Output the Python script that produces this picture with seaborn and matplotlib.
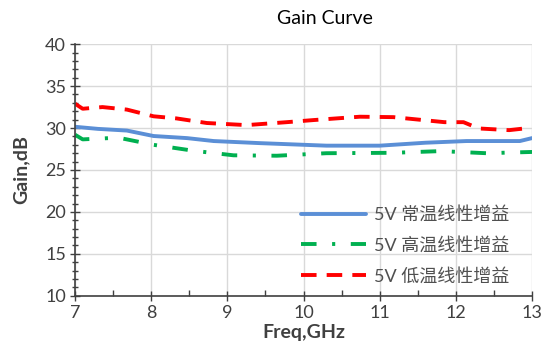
import numpy as np
import pandas as pd
import matplotlib
matplotlib.use("Agg")
import matplotlib.pyplot as plt
from matplotlib.ticker import MultipleLocator
import seaborn as sns

# values
freq_normal = [7.0, 7.3, 7.68, 8.03, 8.47, 8.82, 9.43, 10.3, 11.0, 11.6, 12.14, 12.84, 13.0]
gain_normal = [30.15, 29.9, 29.7, 29.05, 28.8, 28.45, 28.2, 27.9, 27.9, 28.25, 28.45, 28.45, 28.8]

freq_high = [7.0, 7.1, 7.57, 8.03, 8.55, 9.08, 9.65, 10.3, 11.18, 11.8, 12.4, 13.0]
gain_high = [29.2, 28.65, 28.85, 28.0, 27.3, 26.75, 26.7, 27.0, 27.05, 27.25, 27.0, 27.15]

freq_low = [7.0, 7.1, 7.36, 7.68, 8.03, 8.33, 8.73, 9.25, 9.78, 10.13, 10.74, 11.18,
            11.85, 12.1, 12.3, 12.7, 12.9]
gain_low = [32.9, 32.3, 32.5, 32.2, 31.4, 31.15, 30.6, 30.35, 30.7, 30.95, 31.35, 31.3,
            30.7, 30.7, 29.95, 29.75, 29.95]

labels = ["5V 常温线性增益", "5V 高温线性增益", "5V 低温线性增益"]

sns.set_style("white")
plt.rcParams['font.family'] = ['Lato', 'Noto Sans CJK SC', 'DejaVu Sans']

fig = plt.figure(figsize=(5.44, 3.56), dpi=100)
ax = fig.add_axes([0.138, 0.169, 0.840, 0.707])

ax.grid(True, which='major', color='#d9d9d9', linewidth=1.0)

sns.lineplot(x=freq_normal, y=gain_normal, ax=ax, color='#5b8fd6', linewidth=2.8, label=labels[0])
sns.lineplot(x=freq_high, y=gain_high, ax=ax, color='#00b050', linewidth=2.8, label=labels[1],
             linestyle=(0, (4, 4, 0.8, 4)))
sns.lineplot(x=freq_low, y=gain_low, ax=ax, color='#ff0000', linewidth=2.8, label=labels[2],
             linestyle=(0, (4, 2.6)))

ax.set_xlim(7, 13)
ax.set_ylim(10, 40)
ax.xaxis.set_major_locator(MultipleLocator(1))
ax.xaxis.set_minor_locator(MultipleLocator(0.5))
ax.yaxis.set_major_locator(MultipleLocator(5))
ax.yaxis.set_minor_locator(MultipleLocator(1))

ax.tick_params(axis='both', which='major', direction='inout', length=7, width=1,
               color='#404040', labelsize=13, labelcolor='#404040', pad=3)
ax.tick_params(axis='x', which='minor', direction='in', length=4, width=1, color='#404040')
ax.tick_params(axis='y', which='minor', direction='inout', length=5, width=1, color='#404040')
ax.tick_params(bottom=True, left=True, which='both')

for side in ['top', 'right']:
    ax.spines[side].set_visible(False)
for side in ['left', 'bottom']:
    ax.spines[side].set_color('#404040')
    ax.spines[side].set_linewidth(1.2)

ax.set_xlabel("Freq,GHz", fontsize=14, fontweight='bold', color='#404040', labelpad=2)
ax.set_ylabel("Gain,dB", fontsize=14, fontweight='bold', color='#404040', labelpad=11)
fig.text(0.597, 0.948, "Gain Curve", ha='center', va='center', fontsize=14, color='black')

ax.legend(loc='lower right', bbox_to_anchor=(0.985, -0.02), frameon=False, fontsize=13,
          handlelength=3.6, labelspacing=0.78, labelcolor='#505050', handletextpad=0.4)

fig.savefig("out.png", dpi=100)
